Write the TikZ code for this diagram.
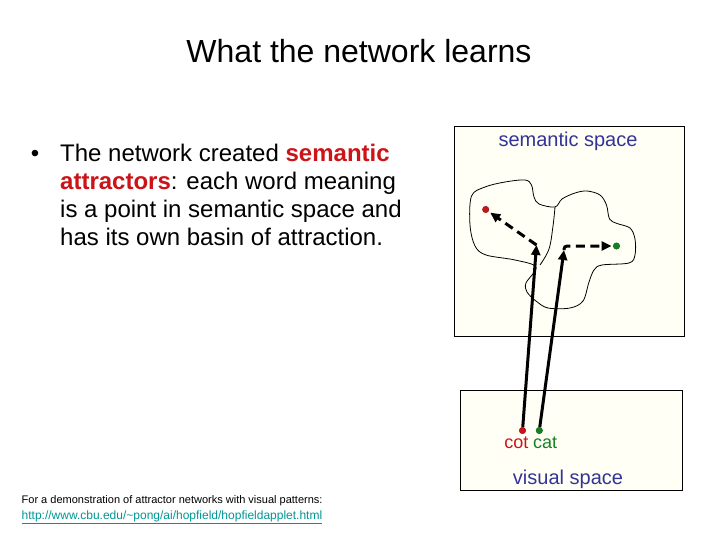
\documentclass[tikz,border=0pt]{standalone}
\usepackage{fontspec}
\setmainfont{Liberation Sans}
\usetikzlibrary{arrows.meta}
\definecolor{semred}{RGB}{204,20,24}
\definecolor{labblue}{RGB}{51,51,153}
\definecolor{urlteal}{RGB}{0,150,150}
\definecolor{dotgreen}{RGB}{20,130,30}
\definecolor{ivory}{RGB}{255,255,245}
\tikzset{
  txt/.style={anchor=base west, inner sep=0pt},
  spacebox/.style={draw=black, line width=1pt, fill=ivory},
  dotnode/.style={circle, inner sep=0pt, minimum size=6.5pt},
  solidarrow/.style={line width=3pt, -{Triangle[length=10pt,width=9pt]}},
  dasharrow/.style={line width=3pt, dash pattern=on 9pt off 5.5pt, -{Triangle[length=10pt,width=9pt]}},
  blob/.style={line width=0.8pt}
}
\begin{document}
\begin{tikzpicture}[x=1pt,y=-1pt]
\useasboundingbox (0,0) rectangle (720,540);
\fill[white] (0,0) rectangle (720,540);
% title
\node[anchor=base, inner sep=0pt, font=\fontsize{32}{36}\selectfont] (title) at (359,63) {What the network learns};
% bullet text
\node[anchor=base, inner sep=0pt, font=\fontsize{24}{28}\selectfont] (bul) at (35,161.7) {•};
\node[txt, font=\fontsize{24}{28}\selectfont] (l1) at (60,161.7) {The network created \textcolor{semred}{\textbf{semantic}}};
\node[txt, font=\fontsize{24}{28}\selectfont] (l2) at (60,189.5) {\textcolor{semred}{\textbf{attractors}}: each word meaning};
\node[txt, font=\fontsize{24}{28}\selectfont] (l3) at (60,217.3) {is a point in semantic space and};
\node[txt, font=\fontsize{24}{28}\selectfont] (l4) at (60,245) {has its own basin of attraction.};
% footnote
\node[txt, font=\fontsize{11}{13}\selectfont] (foot) at (21.5,503.3) {For a demonstration of attractor networks with visual patterns:};
\node[txt, font=\fontsize{12}{14}\selectfont, text=urlteal] (url) at (21.5,519.3) {\underline{http://www.cbu.edu/\textasciitilde pong/ai/hopfield/hopfieldapplet.html}};
% boxes
\path[spacebox] (454,127) rectangle (684,336);
\path[spacebox] (460,390) rectangle (682,490);
\node[anchor=base, inner sep=0pt, font=\fontsize{20}{24}\selectfont, text=labblue] (semlab) at (568,147) {semantic space};
\node[anchor=base, inner sep=0pt, font=\fontsize{20}{24}\selectfont, text=labblue] (vislab) at (568,484) {visual space};
% blob outline
\draw[blob] plot[smooth cycle, tension=0.55] coordinates {
  (471.5,196) (485,187) (505,182) (525,180) (531.5,185) (534,197) (539,204) (555,207)
  (562,199) (575,193) (587,191) (600,195) (606.5,205) (609.5,219) (617,223.5) (630,228)
  (635,239) (635,255) (629,263) (602,265) (594,270) (589,282) (583,301) (570,308)
  (548,308) (536,301) (527,292) (526,283) (536,267) (515,260) (486,255) (475,246) (470,225)};
\draw[blob] plot[smooth, tension=0.6] coordinates {(555,207) (553,226) (549,249) (540,265)};
% dots
\node[dotnode, fill=semred, draw=semred!70!black, line width=0.4pt] (vcot) at (522.5,430.5) {};
\node[dotnode, fill=dotgreen, draw=dotgreen!70!black, line width=0.4pt] (vcat) at (539.3,430.5) {};
\node[dotnode, fill=semred, draw=semred!70!black, line width=0.4pt] (scot) at (485.7,209.5) {};
\node[dotnode, fill=dotgreen, draw=dotgreen!70!black, line width=0.4pt] (scat) at (616.5,246) {};
\node[anchor=base east, inner sep=0pt, font=\fontsize{18}{22}\selectfont, text=semred] (cotlab) at (528.5,448.3) {cot};
\node[anchor=base west, inner sep=0pt, font=\fontsize{18}{22}\selectfont, text=dotgreen] (catlab) at (533,448.3) {cat};
% arrows
\coordinate (t1) at (536.5,245);
\coordinate (t2) at (564,250);
\draw[solidarrow] (vcot) -- (t1);
\draw[solidarrow] (vcat) -- (t2);
\draw[dasharrow, shorten >=2pt] (t1) -- (scot);
\draw[dasharrow, rounded corners=3pt, shorten >=1.5pt] (t2) |- (scat);
\end{tikzpicture}
\end{document}
